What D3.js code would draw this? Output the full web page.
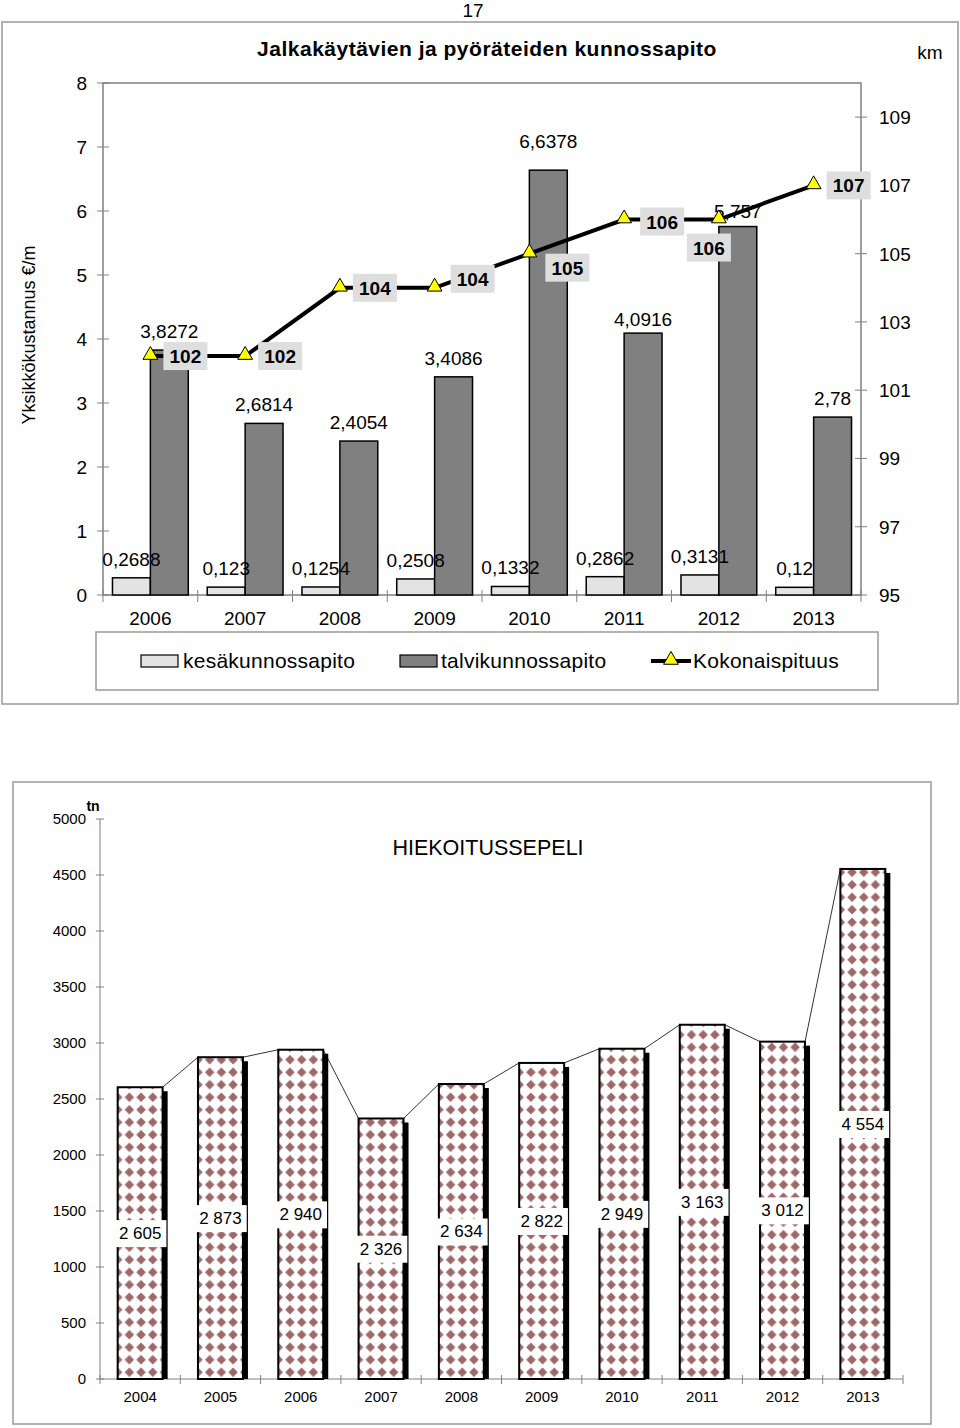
<!DOCTYPE html>
<html>
<head>
<meta charset="utf-8">
<script src="https://cdn.jsdelivr.net/npm/d3@7"></script>
<style>
body { margin: 0; background: #fff; }
svg { display: block; font-family: "Liberation Sans", Arial, sans-serif; }
</style>
</head>
<body>
<svg id="chart" width="960" height="1428"></svg>
<script>
// top chart data
var years = ["2006","2007","2008","2009","2010","2011","2012","2013"]
var kesa = [0.2688,0.123,0.1254,0.2508,0.1332,0.2862,0.3131,0.12]
var talvi = [3.8272,2.6814,2.4054,3.4086,6.6378,4.0916,5.757,2.78]
var pituus = [102,102,104,104,105,106,106,107]
var leftTicks = [0,1,2,3,4,5,6,7,8]
var rightTicks = [95,97,99,101,103,105,107,109]

// bottom chart data
var sepYears = ["2004","2005","2006","2007","2008","2009","2010","2011","2012","2013"]
var sepeli = [2605,2873,2940,2326,2634,2822,2949,3163,3012,4554]
var sepTicks = [0,500,1000,1500,2000,2500,3000,3500,4000,4500,5000]

// nudges for labels (placement only)
var lineLabelOffset = [[35,0],[35,0],[35,0],[38,-9],[38,14],[38,2],[-10,28],[35,0]]
var talviLabelNudge = [0,0,0,0,-10,5,3,0]

var svg = d3.select("#chart")
var AXIS = "#808080"
var comma = function(v){ return String(v).replace(".", ",") }
var fmtSpace = d3.formatLocale({decimal:",", thousands:" ", grouping:[3], currency:["",""]}).format(",")

svg.append("text").attr("x",473).attr("y",17).attr("text-anchor","middle")
	.style("font-size","19px").text("17")

// ---------- top chart ----------
svg.append("rect").attr("x",2).attr("y",22).attr("width",956).attr("height",682)
	.attr("fill","none").attr("stroke","#999").attr("stroke-width",1.5)

var L = 103, R = 861, T = 83, B = 595

var x0 = d3.scaleBand().domain(years).range([L,R]).paddingInner(0.2).paddingOuter(0.1)
var x1 = d3.scaleBand().domain(["kesa","talvi"]).range([0, x0.bandwidth()])
var yL = d3.scaleLinear().domain([0,8]).range([B,T])
var yR = d3.scaleLinear().domain([95,110]).range([B,T])
var step = x0.step()

svg.append("text").attr("x",487).attr("y",56).attr("text-anchor","middle")
	.style("font-size","21px").style("font-weight","bold").style("letter-spacing","0.5px")
	.text("Jalkakäytävien ja pyöräteiden kunnossapito")
svg.append("text").attr("x",930).attr("y",59).attr("text-anchor","middle")
	.style("font-size","19px").text("km")
svg.append("text").attr("transform","translate(35,335) rotate(-90)").attr("text-anchor","middle")
	.style("font-size","18px").text("Yksikkökustannus €/m")

// frame
svg.append("rect").attr("x",L).attr("y",T).attr("width",R-L).attr("height",B-T)
	.attr("fill","none").attr("stroke",AXIS).attr("stroke-width",1.5)

// left axis
var gl = svg.append("g")
gl.selectAll("line").data(leftTicks).enter().append("line")
	.attr("x1",L-6).attr("x2",L+6).attr("y1",yL).attr("y2",yL).attr("stroke",AXIS)
gl.selectAll("text").data(leftTicks).enter().append("text")
	.attr("x",L-16).attr("y",function(d){ return yL(d)+7 }).attr("text-anchor","end")
	.style("font-size","19px").text(function(d){ return d })

// right axis
var gr = svg.append("g")
gr.selectAll("line").data(rightTicks).enter().append("line")
	.attr("x1",R-6).attr("x2",R+6).attr("y1",yR).attr("y2",yR).attr("stroke",AXIS)
gr.selectAll("text").data(rightTicks).enter().append("text")
	.attr("x",R+18).attr("y",function(d){ return yR(d)+7 })
	.style("font-size","19px").text(function(d){ return d })

// category axis
var bounds = d3.range(years.length+1).map(function(i){ return L + i*step })
svg.append("g").selectAll("line").data(bounds).enter().append("line")
	.attr("x1",function(d){ return d }).attr("x2",function(d){ return d })
	.attr("y1",B-5).attr("y2",B+7).attr("stroke",AXIS)
svg.append("g").selectAll("text").data(years).enter().append("text")
	.attr("x",function(d){ return x0(d)+x0.bandwidth()/2 }).attr("y",B+30)
	.attr("text-anchor","middle").style("font-size","19px").text(function(d){ return d })

// bars
var bw = x1.bandwidth()
var groups = svg.append("g").selectAll("g").data(years).enter().append("g")
	.attr("transform",function(d){ return "translate(" + x0(d) + ",0)" })
groups.append("rect").attr("x",x1("kesa")).attr("width",bw)
	.attr("y",function(d,i){ return yL(kesa[i]) })
	.attr("height",function(d,i){ return B - yL(kesa[i]) })
	.attr("fill","#e3e3e3").attr("stroke","#000").attr("stroke-width",1.5)
groups.append("rect").attr("x",x1("talvi")).attr("width",bw)
	.attr("y",function(d,i){ return yL(talvi[i]) })
	.attr("height",function(d,i){ return B - yL(talvi[i]) })
	.attr("fill","#808080").attr("stroke","#000").attr("stroke-width",1.5)
groups.append("text").attr("x",x1("kesa")+bw/2)
	.attr("y",function(d,i){ return yL(kesa[i]) - 12 })
	.attr("text-anchor","middle").style("font-size","19px")
	.text(function(d,i){ return comma(kesa[i]) })
groups.append("text").attr("x",x1("talvi")+bw/2)
	.attr("y",function(d,i){ return yL(talvi[i]) - 12 + talviLabelNudge[i] })
	.attr("text-anchor","middle").style("font-size","19px")
	.text(function(d,i){ return comma(talvi[i]) })

// line
var cx = function(d){ return x0(d) + x0.bandwidth()/2 }
var line = d3.line().x(function(d,i){ return cx(years[i]) }).y(function(d){ return yR(d) })
svg.append("path").datum(pituus).attr("d",line)
	.attr("fill","none").attr("stroke","#000").attr("stroke-width",4)
var tri = d3.symbol().type(d3.symbolTriangle).size(95)
svg.append("g").selectAll("path").data(pituus).enter().append("path")
	.attr("d",tri)
	.attr("transform",function(d,i){ return "translate(" + cx(years[i]) + "," + (yR(d)-1) + ")" })
	.attr("fill","#ffff00").attr("stroke","#000").attr("stroke-width",1)
var ll = svg.append("g").selectAll("g").data(pituus).enter().append("g")
	.attr("transform",function(d,i){
		return "translate(" + (cx(years[i]) + lineLabelOffset[i][0]) + "," + (yR(d) + lineLabelOffset[i][1]) + ")"
	})
ll.append("rect").attr("x",-22).attr("y",-14).attr("width",44).attr("height",28).attr("fill","#dedede")
ll.append("text").attr("y",7).attr("text-anchor","middle")
	.style("font-size","19px").style("font-weight","bold").text(function(d){ return d })

// legend
svg.append("rect").attr("x",96).attr("y",632).attr("width",782).attr("height",58)
	.attr("fill","none").attr("stroke","#999").attr("stroke-width",1.5)
svg.append("rect").attr("x",141).attr("y",655).attr("width",37).attr("height",12)
	.attr("fill","#e3e3e3").attr("stroke","#000").attr("stroke-width",1.2)
svg.append("text").attr("x",183).attr("y",668).attr("class","leg").text("kesäkunnossapito")
svg.append("rect").attr("x",400).attr("y",655).attr("width",37).attr("height",12)
	.attr("fill","#808080").attr("stroke","#000").attr("stroke-width",1.2)
svg.append("text").attr("x",441).attr("y",668).attr("class","leg").text("talvikunnossapito")
svg.append("line").attr("x1",651).attr("x2",691).attr("y1",661).attr("y2",661)
	.attr("stroke","#000").attr("stroke-width",4)
svg.append("path").attr("d",tri).attr("transform","translate(671,660)")
	.attr("fill","#ffff00").attr("stroke","#000")
svg.append("text").attr("x",693).attr("y",668).attr("class","leg").text("Kokonaispituus")
svg.selectAll(".leg").style("font-size","21px").style("letter-spacing","0.25px")

// ---------- bottom chart ----------
svg.append("rect").attr("x",13).attr("y",782).attr("width",918).attr("height",642)
	.attr("fill","none").attr("stroke","#999").attr("stroke-width",1.5)

var L2 = 100, R2 = 903, T2 = 819, B2 = 1379
var xs = d3.scaleBand().domain(sepYears).range([L2,R2]).paddingInner(0.44).paddingOuter(0.22)
var ys = d3.scaleLinear().domain([0,5000]).range([B2,T2])

var defs = svg.append("defs")
var pat = defs.append("pattern").attr("id","dots").attr("patternUnits","userSpaceOnUse")
	.attr("x",-5.85).attr("y",3.5).attr("width",11.7).attr("height",12.5)
pat.append("rect").attr("width",11.7).attr("height",12.5).attr("fill","#fff")
pat.append("path").attr("d","M5.85,1.4 L10.6,6.25 L5.85,11.1 L1.1,6.25 Z").attr("fill","#9e6868")

svg.append("text").attr("x",488).attr("y",855).attr("text-anchor","middle")
	.style("font-size","21.5px").text("HIEKOITUSSEPELI")
svg.append("text").attr("x",93).attr("y",811).attr("text-anchor","middle")
	.style("font-size","14px").style("font-weight","bold").text("tn")

// y axis
svg.append("line").attr("x1",L2).attr("x2",L2).attr("y1",T2).attr("y2",B2).attr("stroke",AXIS)
var gs = svg.append("g")
gs.selectAll("line").data(sepTicks).enter().append("line")
	.attr("x1",L2-4).attr("x2",L2+4).attr("y1",ys).attr("y2",ys).attr("stroke",AXIS)
gs.selectAll("text").data(sepTicks).enter().append("text")
	.attr("x",L2-14).attr("y",function(d){ return ys(d)+5 }).attr("text-anchor","end")
	.style("font-size","15px").text(function(d){ return d })

// x axis
svg.append("line").attr("x1",L2).attr("x2",R2).attr("y1",B2).attr("y2",B2).attr("stroke",AXIS)
var bounds2 = d3.range(sepYears.length+1).map(function(i){ return L2 + i*xs.step() })
svg.append("g").selectAll("line").data(bounds2).enter().append("line")
	.attr("x1",function(d){ return d }).attr("x2",function(d){ return d })
	.attr("y1",B2-4).attr("y2",B2+5).attr("stroke",AXIS)
svg.append("g").selectAll("text").data(sepYears).enter().append("text")
	.attr("x",function(d){ return xs(d)+xs.bandwidth()/2 }).attr("y",B2+23)
	.attr("text-anchor","middle").style("font-size","15px").text(function(d){ return d })

var sbw = xs.bandwidth()
// series lines
var links = d3.range(sepeli.length-1)
svg.append("g").selectAll("line").data(links).enter().append("line")
	.attr("x1",function(i){ return xs(sepYears[i]) + sbw }).attr("y1",function(i){ return ys(sepeli[i]) })
	.attr("x2",function(i){ return xs(sepYears[i+1]) }).attr("y2",function(i){ return ys(sepeli[i+1]) })
	.attr("stroke","#333").attr("stroke-width",1)

// bars drawn in a group at the bar's x so the pattern lines up with each bar
var sb = svg.append("g").selectAll("g").data(sepeli).enter().append("g")
	.attr("transform",function(d,i){ return "translate(" + xs(sepYears[i]) + ",0)" })
sb.append("rect")
	.attr("x",5).attr("y",function(d){ return ys(d) + 4 })
	.attr("width",sbw).attr("height",function(d){ return B2 - ys(d) - 4 }).attr("fill","#000")
sb.append("rect")
	.attr("x",0).attr("y",function(d){ return ys(d) })
	.attr("width",sbw).attr("height",function(d){ return B2 - ys(d) })
	.attr("fill","url(#dots)").attr("stroke","#000").attr("stroke-width",2)

var lab = svg.append("g").selectAll("g").data(sepeli).enter().append("g")
	.attr("transform",function(d,i){ return "translate(" + (xs(sepYears[i]) + sbw/2) + "," + ys(d/2) + ")" })
lab.append("rect").attr("fill","#fff")
lab.append("text").attr("y",6).attr("text-anchor","middle").style("font-size","17px")
	.text(function(d){ return fmtSpace(d) })
	.each(function(){
		var w = this.getComputedTextLength() + 10
		d3.select(this.parentNode).select("rect")
			.attr("x",-w/2).attr("y",-13).attr("width",w).attr("height",27)
	})
</script>
</body>
</html>
